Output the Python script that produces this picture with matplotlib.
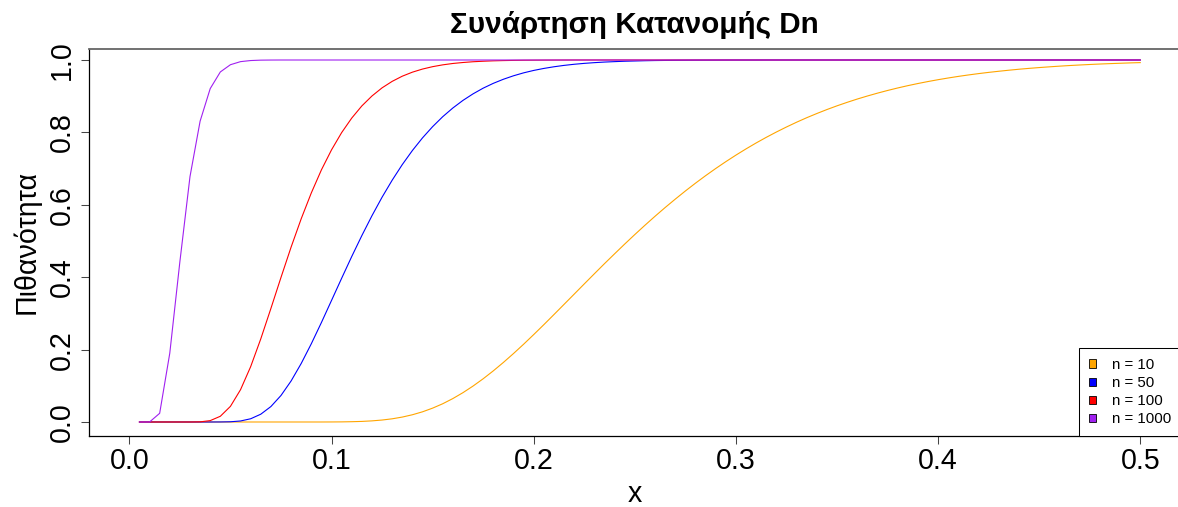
import numpy as np
import matplotlib.pyplot as plt
from matplotlib.patches import Patch

plt.rcParams['font.family'] = ['Liberation Sans', 'DejaVu Sans']

# x grid of the curves (0.005 ... 0.5)
x = np.linspace(0.005, 0.5, 100)

# P(Dn <= x)
p_n10 = [
    0, 0, 0, 0, 0, 0, 0, 0, 0, 0,
    0, 0, 0, 0, 0, 0, 0, 0, 0, 0.0001,
    0.0003, 0.0008, 0.0016, 0.0031, 0.0054, 0.0088, 0.0136, 0.0200, 0.0281, 0.0383,
    0.0504, 0.0647, 0.0810, 0.0993, 0.1194, 0.1412, 0.1645, 0.1891, 0.2148, 0.2415,
    0.2688, 0.2967, 0.3249, 0.3531, 0.3814, 0.4095, 0.4374, 0.4646, 0.4915, 0.5178,
    0.5434, 0.5683, 0.5924, 0.6156, 0.6381, 0.6597, 0.6804, 0.7002, 0.7191, 0.7372,
    0.7544, 0.7708, 0.7863, 0.8010, 0.8149, 0.8281, 0.8405, 0.8521, 0.8631, 0.8734,
    0.8830, 0.8921, 0.9005, 0.9084, 0.9158, 0.9227, 0.9291, 0.9350, 0.9405, 0.9456,
    0.9503, 0.9547, 0.9587, 0.9624, 0.9658, 0.9689, 0.9718, 0.9745, 0.9769, 0.9791,
    0.9811, 0.9830, 0.9847, 0.9862, 0.9876, 0.9889, 0.9900, 0.9910, 0.9920, 0.9928,
]
p_n50 = [
    0, 0, 0, 0, 0, 0, 0, 0, 0.0001, 0.0006,
    0.0028, 0.0089, 0.0215, 0.0426, 0.0732, 0.1133, 0.1616, 0.2161, 0.2748, 0.3358,
    0.3970, 0.4572, 0.5150, 0.5698, 0.6210, 0.6680, 0.7111, 0.7500, 0.7849, 0.8159,
    0.8434, 0.8674, 0.8884, 0.9065, 0.9222, 0.9355, 0.9468, 0.9564, 0.9645, 0.9712,
    0.9767, 0.9813, 0.9851, 0.9882, 0.9907, 0.9927, 0.9943, 0.9955, 0.9966, 0.9973,
    0.9980, 0.9985, 0.9988, 0.9991, 0.9993, 0.9995, 0.9996, 0.9997, 0.9998, 0.9999,
    0.9999, 0.9999, 1.0, 1.0, 1.0, 1.0, 1.0, 1.0, 1.0, 1.0,
    1.0, 1.0, 1.0, 1.0, 1.0, 1.0, 1.0, 1.0, 1.0, 1.0,
    1.0, 1.0, 1.0, 1.0, 1.0, 1.0, 1.0, 1.0, 1.0, 1.0,
    1.0, 1.0, 1.0, 1.0, 1.0, 1.0, 1.0, 1.0, 1.0, 1.0,
]
p_n100 = [
    0, 0, 0, 0, 0, 0, 0.0004, 0.0038, 0.0158, 0.0432,
    0.0893, 0.1528, 0.2295, 0.3134, 0.3993, 0.4830, 0.5614, 0.6328, 0.6965, 0.7518,
    0.7994, 0.8396, 0.8732, 0.9006, 0.9231, 0.9410, 0.9553, 0.9664, 0.9750, 0.9816,
    0.9866, 0.9904, 0.9931, 0.9952, 0.9966, 0.9977, 0.9984, 0.9989, 0.9993, 0.9995,
    0.9997, 0.9998, 0.9999, 1.0, 1.0, 1.0, 1.0, 1.0, 1.0, 1.0,
    1.0, 1.0, 1.0, 1.0, 1.0, 1.0, 1.0, 1.0, 1.0, 1.0,
    1.0, 1.0, 1.0, 1.0, 1.0, 1.0, 1.0, 1.0, 1.0, 1.0,
    1.0, 1.0, 1.0, 1.0, 1.0, 1.0, 1.0, 1.0, 1.0, 1.0,
    1.0, 1.0, 1.0, 1.0, 1.0, 1.0, 1.0, 1.0, 1.0, 1.0,
    1.0, 1.0, 1.0, 1.0, 1.0, 1.0, 1.0, 1.0, 1.0, 1.0,
]
p_n1000 = [
    0, 0, 0.024, 0.190, 0.443, 0.678, 0.831, 0.921, 0.967, 0.987,
    0.9955, 0.9985, 0.9996, 0.9999, 1.0, 1.0, 1.0, 1.0, 1.0, 1.0,
    1.0, 1.0, 1.0, 1.0, 1.0, 1.0, 1.0, 1.0, 1.0, 1.0,
    1.0, 1.0, 1.0, 1.0, 1.0, 1.0, 1.0, 1.0, 1.0, 1.0,
    1.0, 1.0, 1.0, 1.0, 1.0, 1.0, 1.0, 1.0, 1.0, 1.0,
    1.0, 1.0, 1.0, 1.0, 1.0, 1.0, 1.0, 1.0, 1.0, 1.0,
    1.0, 1.0, 1.0, 1.0, 1.0, 1.0, 1.0, 1.0, 1.0, 1.0,
    1.0, 1.0, 1.0, 1.0, 1.0, 1.0, 1.0, 1.0, 1.0, 1.0,
    1.0, 1.0, 1.0, 1.0, 1.0, 1.0, 1.0, 1.0, 1.0, 1.0,
    1.0, 1.0, 1.0, 1.0, 1.0, 1.0, 1.0, 1.0, 1.0, 1.0,
]

series = [p_n10, p_n50, p_n100, p_n1000]
labels = ['n = 10', 'n = 50', 'n = 100', 'n = 1000']
colors = ['orange', 'blue', 'red', '#A020F0']
xticks = [0.0, 0.1, 0.2, 0.3, 0.4, 0.5]
yticks = [0.0, 0.2, 0.4, 0.6, 0.8, 1.0]

W, H = 1178, 507
fig = plt.figure(figsize=(W / 100, H / 100), dpi=100)
ax = fig.add_axes([88.5 / W, 71 / H, 1092.2 / W, 387 / H])

for y, c in zip(series, colors):
    ax.plot(x, y, color=c, lw=0.8)

ax.set_xlim(-0.0202, 0.52)
ax.set_ylim(-0.0387, 1.0304)
ax.set_xticks(xticks)
ax.set_xticklabels(['%.1f' % t for t in xticks])
ax.set_yticks(yticks)
ax.set_yticklabels(['%.1f' % t for t in yticks], rotation=90, va='center')
ax.tick_params(length=5.8, width=0.75, labelsize=20.6, color='#444444')
ax.tick_params(axis='x', pad=2)
ax.tick_params(axis='y', pad=3)

ax.spines['right'].set_visible(False)
for s in ['left', 'bottom']:
    ax.spines[s].set_linewidth(0.9)
    ax.spines[s].set_color('black')
ax.spines['top'].set_linewidth(1.3)
ax.spines['top'].set_color('#666666')

handles = [Patch(facecolor=c, edgecolor='black', linewidth=0.6) for c in colors]
leg = ax.legend(handles, labels, loc='lower left',
                bbox_to_anchor=((1079 - 88.5) / 1092.2, 0), borderaxespad=0,
                fontsize=10.8, handlelength=0.5, handleheight=0.5,
                handletextpad=1.05, borderpad=0.65, labelspacing=0.27,
                fancybox=False, edgecolor='black', framealpha=1)
leg.get_frame().set_linewidth(0.75)

fig.text(634.6 / W, 1 - 33 / H, 'Συνάρτηση Κατανομής Dn', ha='center',
         va='baseline', fontsize=21.3, fontweight='bold')
fig.text(634.6 / W, 1 - 502 / H, 'x', ha='center', va='baseline', fontsize=20.6)
fig.text(35 / W, 1 - 242 / H, 'Πιθανότητα', rotation=90, rotation_mode='anchor',
         ha='center', va='baseline', fontsize=20.6)

fig.savefig('out.png', dpi=100)
